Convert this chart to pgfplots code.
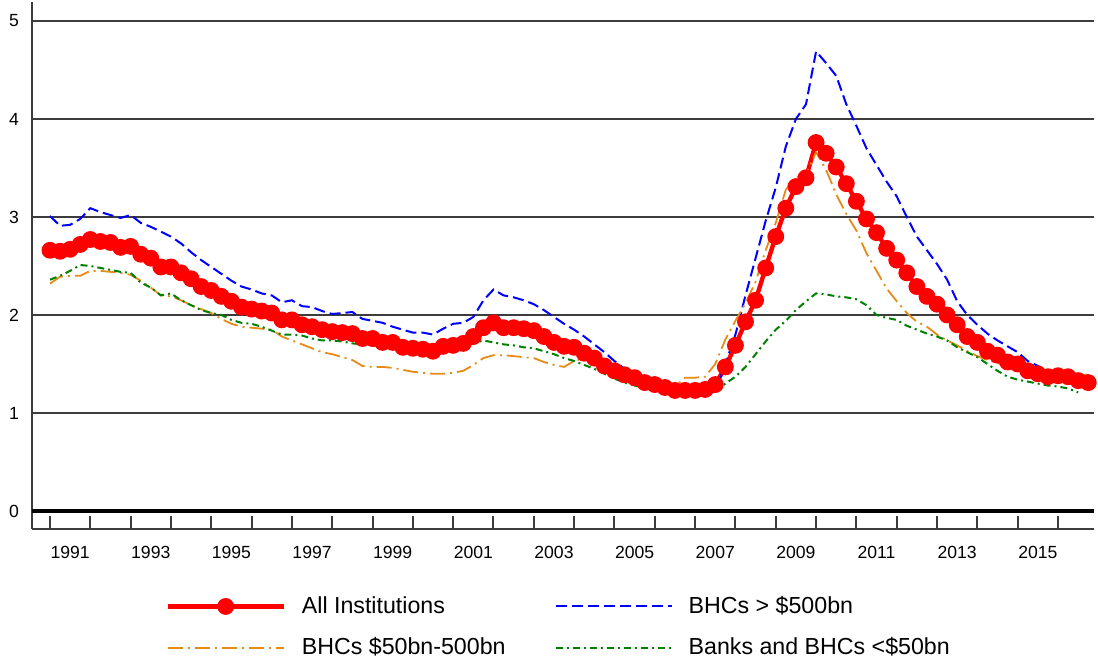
\documentclass[border=0pt]{standalone}
\usepackage{fontspec}
\setmainfont{Liberation Sans}
\usepackage{pgfplots}
\usepackage{pgfplotstable}
\pgfplotsset{compat=1.18}

\definecolor{gridgray}{RGB}{60,60,60}
\definecolor{midorange}{RGB}{232,138,22}
\definecolor{smallgreen}{RGB}{0,128,0}

% quarterly ratios: all institutions, BHCs > $500bn, BHCs $50bn-500bn, banks and BHCs < $50bn
\pgfplotstableread{
t all big mid small
1991.00 2.66 3.01 2.32 2.36
1991.25 2.65 2.91 2.39 2.40
1991.50 2.67 2.92 2.40 2.45
1991.75 2.72 2.98 2.40 2.51
1992.00 2.77 3.09 2.45 2.50
1992.25 2.75 3.05 2.45 2.48
1992.50 2.74 3.02 2.44 2.46
1992.75 2.69 2.99 2.43 2.44
1993.00 2.70 3.02 2.41 2.43
1993.25 2.62 2.94 2.35 2.33
1993.50 2.58 2.90 2.28 2.28
1993.75 2.49 2.85 2.20 2.20
1994.00 2.49 2.80 2.19 2.22
1994.25 2.43 2.73 2.15 2.15
1994.50 2.37 2.64 2.10 2.10
1994.75 2.29 2.56 2.06 2.05
1995.00 2.25 2.49 2.02 2.02
1995.25 2.19 2.42 1.96 2.00
1995.50 2.14 2.35 1.91 1.95
1995.75 2.08 2.29 1.88 1.92
1996.00 2.06 2.26 1.87 1.91
1996.25 2.04 2.22 1.86 1.88
1996.50 2.02 2.20 1.85 1.84
1996.75 1.95 2.13 1.78 1.80
1997.00 1.95 2.15 1.74 1.80
1997.25 1.90 2.09 1.70 1.79
1997.50 1.88 2.08 1.66 1.76
1997.75 1.85 2.04 1.62 1.74
1998.00 1.83 2.01 1.60 1.74
1998.25 1.82 2.02 1.57 1.73
1998.50 1.81 2.03 1.54 1.71
1998.75 1.76 1.96 1.48 1.70
1999.00 1.76 1.94 1.47 1.69
1999.25 1.72 1.92 1.47 1.67
1999.50 1.72 1.88 1.46 1.66
1999.75 1.67 1.85 1.44 1.65
2000.00 1.66 1.82 1.42 1.64
2000.25 1.65 1.82 1.41 1.63
2000.50 1.63 1.80 1.40 1.62
2000.75 1.68 1.86 1.40 1.63
2001.00 1.69 1.91 1.41 1.65
2001.25 1.71 1.92 1.43 1.67
2001.50 1.78 1.98 1.49 1.71
2001.75 1.87 2.15 1.56 1.74
2002.00 1.92 2.26 1.59 1.72
2002.25 1.87 2.20 1.59 1.70
2002.50 1.87 2.18 1.58 1.69
2002.75 1.86 2.15 1.57 1.67
2003.00 1.84 2.11 1.56 1.66
2003.25 1.78 2.05 1.52 1.63
2003.50 1.72 1.98 1.49 1.60
2003.75 1.68 1.91 1.47 1.56
2004.00 1.67 1.85 1.53 1.53
2004.25 1.61 1.78 1.56 1.49
2004.50 1.56 1.70 1.52 1.45
2004.75 1.48 1.62 1.47 1.40
2005.00 1.43 1.53 1.43 1.35
2005.25 1.39 1.45 1.40 1.31
2005.50 1.36 1.39 1.36 1.28
2005.75 1.31 1.35 1.33 1.26
2006.00 1.29 1.30 1.31 1.24
2006.25 1.26 1.26 1.27 1.22
2006.50 1.23 1.22 1.27 1.21
2006.75 1.23 1.16 1.36 1.20
2007.00 1.23 1.17 1.36 1.20
2007.25 1.24 1.19 1.37 1.20
2007.50 1.29 1.22 1.50 1.22
2007.75 1.47 1.50 1.75 1.30
2008.00 1.69 1.80 1.94 1.37
2008.25 1.93 2.20 2.12 1.47
2008.50 2.15 2.58 2.34 1.60
2008.75 2.48 2.96 2.66 1.73
2009.00 2.80 3.30 2.94 1.85
2009.25 3.09 3.72 3.28 1.94
2009.50 3.31 4.00 3.40 2.05
2009.75 3.40 4.15 3.44 2.14
2010.00 3.76 4.69 3.66 2.22
2010.25 3.65 4.57 3.48 2.21
2010.50 3.51 4.44 3.23 2.19
2010.75 3.34 4.15 3.03 2.18
2011.00 3.16 3.93 2.86 2.16
2011.25 2.98 3.70 2.63 2.10
2011.50 2.84 3.53 2.45 2.00
2011.75 2.68 3.36 2.27 1.97
2012.00 2.56 3.21 2.14 1.95
2012.25 2.43 3.00 2.02 1.89
2012.50 2.29 2.80 1.93 1.85
2012.75 2.19 2.66 1.88 1.81
2013.00 2.11 2.52 1.80 1.78
2013.25 2.00 2.36 1.74 1.74
2013.50 1.90 2.14 1.69 1.67
2013.75 1.78 2.00 1.63 1.62
2014.00 1.72 1.90 1.58 1.57
2014.25 1.63 1.81 1.54 1.50
2014.50 1.59 1.74 1.51 1.43
2014.75 1.52 1.68 1.47 1.37
2015.00 1.50 1.62 1.47 1.34
2015.25 1.43 1.53 1.44 1.32
2015.50 1.40 1.48 1.41 1.30
2015.75 1.37 1.42 1.37 1.28
2016.00 1.38 1.42 1.41 1.27
2016.25 1.37 1.41 1.42 1.25
2016.50 1.33 1.38 1.39 1.21
2016.75 1.31 1.34 1.39 nan
}\ratios

\begin{document}
\begin{tikzpicture}
\begin{axis}[
    at={(0,0)}, anchor=south west,
    scale only axis, width=531pt, height=263.5pt,
    xmin=1990.554, xmax=2016.893,
    ymin=-0.184, ymax=5.194,
    axis lines*=left,
    axis line style={gridgray, line width=1pt},
    tick align=inside,
    xtick={1991.5,1993.5,1995.5,1997.5,1999.5,2001.5,2003.5,2005.5,2007.5,2009.5,2011.5,2013.5,2015.5},
    xticklabels={1991,1993,1995,1997,1999,2001,2003,2005,2007,2009,2011,2013,2015},
    minor xtick={1991,1992,...,2016},
    major tick length=0pt, minor tick length=6.5pt,
    minor tick style={gridgray, line width=1pt},
    ytick={1,2,3,4,5},
    extra y ticks={0},
    extra y tick style={ymajorgrids=true, grid style={black, line width=2pt}},
    ymajorgrids, grid style={gridgray, line width=1pt},
    /pgf/number format/assume math mode=true,
    tick label style={font=\fontsize{8.8}{10}\selectfont},
    xticklabel style={yshift=-5pt},
    yticklabel style={xshift=-3pt},
    legend image code/.code={\draw[mark repeat=2, mark phase=2, #1] plot coordinates {(0pt,0pt) (29pt,0pt) (58pt,0pt)}; \path (63pt,0pt);},
    legend cell align=left,
    legend style={at={(axis description cs:0.1253,-0.1157)}, anchor=north west,
        draw=none, fill=none, inner sep=0pt, legend columns=2,
        font=\fontsize{11.6}{13.9}\selectfont, nodes={inner sep=3pt},
        /tikz/every even column/.append style={column sep=21.5pt}, row sep=4.5pt},
]
\addplot[red, line width=2.2pt, mark=*, mark size=3.1pt, mark options={solid}] table[x=t, y=all] {\ratios};
\addplot[blue, line width=1pt, dash pattern=on 5.5pt off 2.5pt] table[x=t, y=big] {\ratios};
\addplot[midorange, line width=0.9pt, dash pattern=on 7.5pt off 2.5pt on 1pt off 2.5pt] table[x=t, y=mid] {\ratios};
\addplot[smallgreen, line width=1pt, dash pattern=on 3.5pt off 2pt on 1pt off 2pt] table[x=t, y=small] {\ratios};
\legend{All Institutions, BHCs > \$500bn, BHCs \$50bn-500bn, Banks and BHCs <\$50bn}
\end{axis}
\pgfresetboundingbox
\path[use as bounding box] (-16pt,-66.5pt) rectangle (533pt,264.5pt);
\end{tikzpicture}
\end{document}
